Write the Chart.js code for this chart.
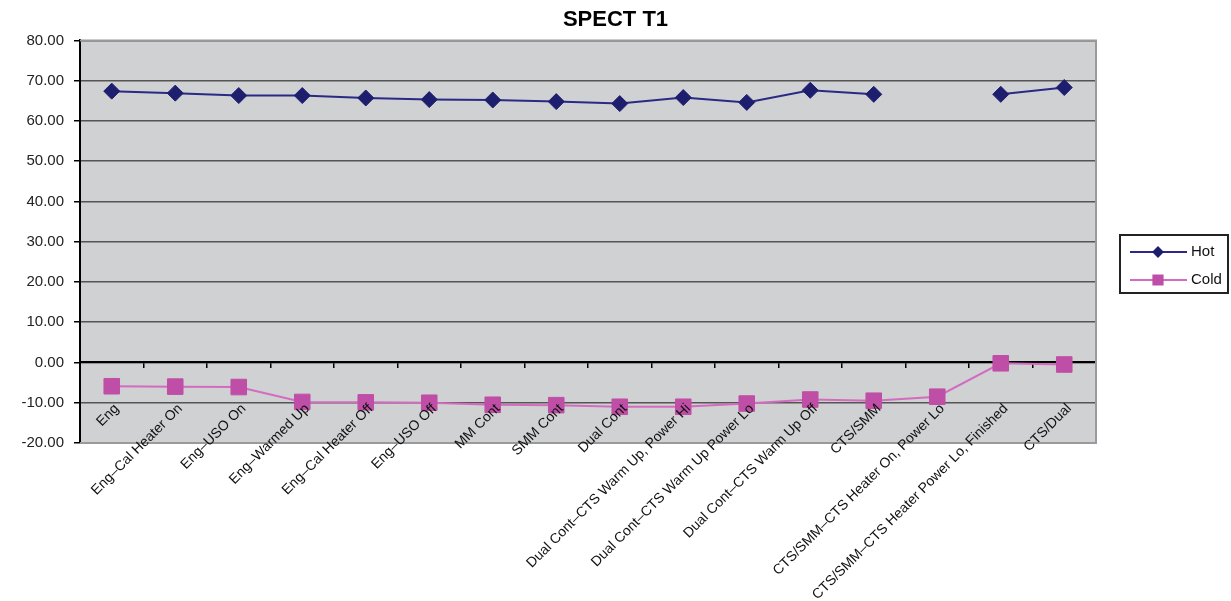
<!DOCTYPE html>
<html>
<head>
<meta charset="utf-8">
<script src="https://cdn.jsdelivr.net/npm/chart.js@4/dist/chart.umd.min.js"></script>
<style>
  html, body { margin: 0; padding: 0; background: #fff; }
</style>
</head>
<body>
<canvas id="chart" width="1231" height="601"></canvas>
<script>
const categories = [
  'Eng',
  'Eng–Cal Heater On',
  'Eng–USO On',
  'Eng–Warmed Up',
  'Eng–Cal Heater Off',
  'Eng–USO Off',
  'MM Cont',
  'SMM Cont',
  'Dual Cont',
  'Dual Cont–CTS Warm Up, Power Hi',
  'Dual Cont–CTS Warm Up Power Lo',
  'Dual Cont–CTS Warm Up Off',
  'CTS/SMM',
  'CTS/SMM–CTS Heater On, Power Lo',
  'CTS/SMM–CTS Heater Power Lo, Finished',
  'CTS/Dual'
];
const hotValues = [67.4, 66.9, 66.3, 66.3, 65.7, 65.3, 65.2, 64.8, 64.3, 65.8, 64.6, 67.6, 66.6, null, 66.6, 68.3];
const coldValues = [-5.9, -6.0, -6.1, -9.8, -9.9, -10.0, -10.5, -10.6, -11.0, -11.0, -10.2, -9.2, -9.5, -8.5, -0.2, -0.5];
const yMin = -20;
const yMax = 80;
const yStep = 10;

Chart.defaults.font.family = '"Liberation Sans", Arial, sans-serif';

// grey plot area, frame and the boxed legend on the right
const plotFrame = {
  id: 'plotFrame',
  beforeDraw(chart) {
    const { ctx, chartArea: a } = chart;
    ctx.save();
    ctx.fillStyle = '#d0d1d3';
    ctx.fillRect(a.left, a.top, a.right - a.left, a.bottom - a.top);
    ctx.restore();
  },
  beforeDatasetsDraw(chart) {
    const { ctx, chartArea: a } = chart;
    ctx.save();
    ctx.strokeStyle = '#9a9a9a';
    ctx.lineWidth = 2;
    ctx.beginPath();
    ctx.moveTo(a.left, a.top);
    ctx.lineTo(a.right, a.top);
    ctx.lineTo(a.right, a.bottom);
    ctx.lineTo(a.left, a.bottom);
    ctx.stroke();
    ctx.restore();
  },
  afterDraw(chart) {
    const ctx = chart.ctx;
    const lx = 1120, ly = 235, lw = 108, lh = 58;
    ctx.save();
    ctx.strokeStyle = '#222';
    ctx.lineWidth = 2;
    ctx.strokeRect(lx, ly, lw, lh);
    chart.data.datasets.forEach((ds, i) => {
      const y = ly + 17 + i * 28;
      ctx.strokeStyle = ds.borderColor;
      ctx.lineWidth = 2;
      ctx.beginPath();
      ctx.moveTo(lx + 10, y);
      ctx.lineTo(lx + 67, y);
      ctx.stroke();
      ctx.fillStyle = ds.pointBackgroundColor;
      ctx.strokeStyle = ds.pointBackgroundColor;
      Chart.helpers.drawPoint(ctx, {
        pointStyle: ds.pointStyle,
        radius: ds.pointStyle === 'rect' ? 6.5 : 4.5,
        rotation: 0,
        borderWidth: 1
      }, lx + 38, y);
      ctx.fillStyle = '#111';
      ctx.font = '15px "Liberation Sans", Arial, sans-serif';
      ctx.textBaseline = 'middle';
      ctx.fillText(ds.label, lx + 71, y);
    });
    ctx.restore();
  }
};

new Chart(document.getElementById('chart'), {
  type: 'line',
  data: {
    labels: categories,
    datasets: [
      {
        label: 'Hot',
        data: hotValues,
        borderColor: '#2a2a86',
        borderWidth: 2,
        pointStyle: 'rectRot',
        pointRadius: 8,
        pointBorderWidth: 1,
        pointBackgroundColor: '#1e1e6e',
        pointBorderColor: '#1e1e6e',
        spanGaps: false,
        tension: 0
      },
      {
        label: 'Cold',
        data: coldValues,
        borderColor: '#d36cc0',
        borderWidth: 2,
        pointStyle: 'rect',
        pointRadius: 11,
        pointBorderWidth: 1,
        pointBackgroundColor: '#bf4fa6',
        pointBorderColor: '#bf4fa6',
        tension: 0
      }
    ]
  },
  options: {
    responsive: false,
    animation: false,
    layout: { padding: { top: 0, left: 0, right: 0, bottom: 158 } },
    plugins: {
      legend: { display: false },
      tooltip: { enabled: false },
      title: {
        display: true,
        text: 'SPECT T1',
        color: '#000',
        font: { size: 22, weight: 'bold' },
        padding: { top: 7, bottom: 7 }
      }
    },
    scales: {
      x: {
        type: 'category',
        offset: true,
        position: { y: 0 },
        grid: {
          display: true,
          drawOnChartArea: false,
          drawTicks: true,
          tickLength: 5,
          offset: true,
          color: '#000',
          lineWidth: 1.5
        },
        border: { display: true, color: '#000', width: 2 },
        ticks: {
          z: 1,
          autoSkip: false,
          minRotation: 45,
          maxRotation: 45,
          padding: 33,
          labelOffset: 5,
          color: '#111',
          font: { size: 14 }
        }
      },
      y: {
        min: yMin,
        max: yMax,
        ticks: {
          stepSize: yStep,
          padding: 10,
          color: '#222',
          font: { size: 15 },
          callback: (v) => v.toFixed(2)
        },
        grid: { color: '#555', lineWidth: 1.5, tickColor: '#000', tickLength: 6 },
        border: { color: '#000', width: 2 },
        afterFit: (s) => { s.width = 80; }
      },
      yRight: {
        position: 'right',
        ticks: { display: false },
        grid: { display: false, drawTicks: false },
        border: { display: false },
        afterFit: (s) => { s.width = 135; }
      }
    }
  },
  plugins: [plotFrame]
});
</script>
</body>
</html>
